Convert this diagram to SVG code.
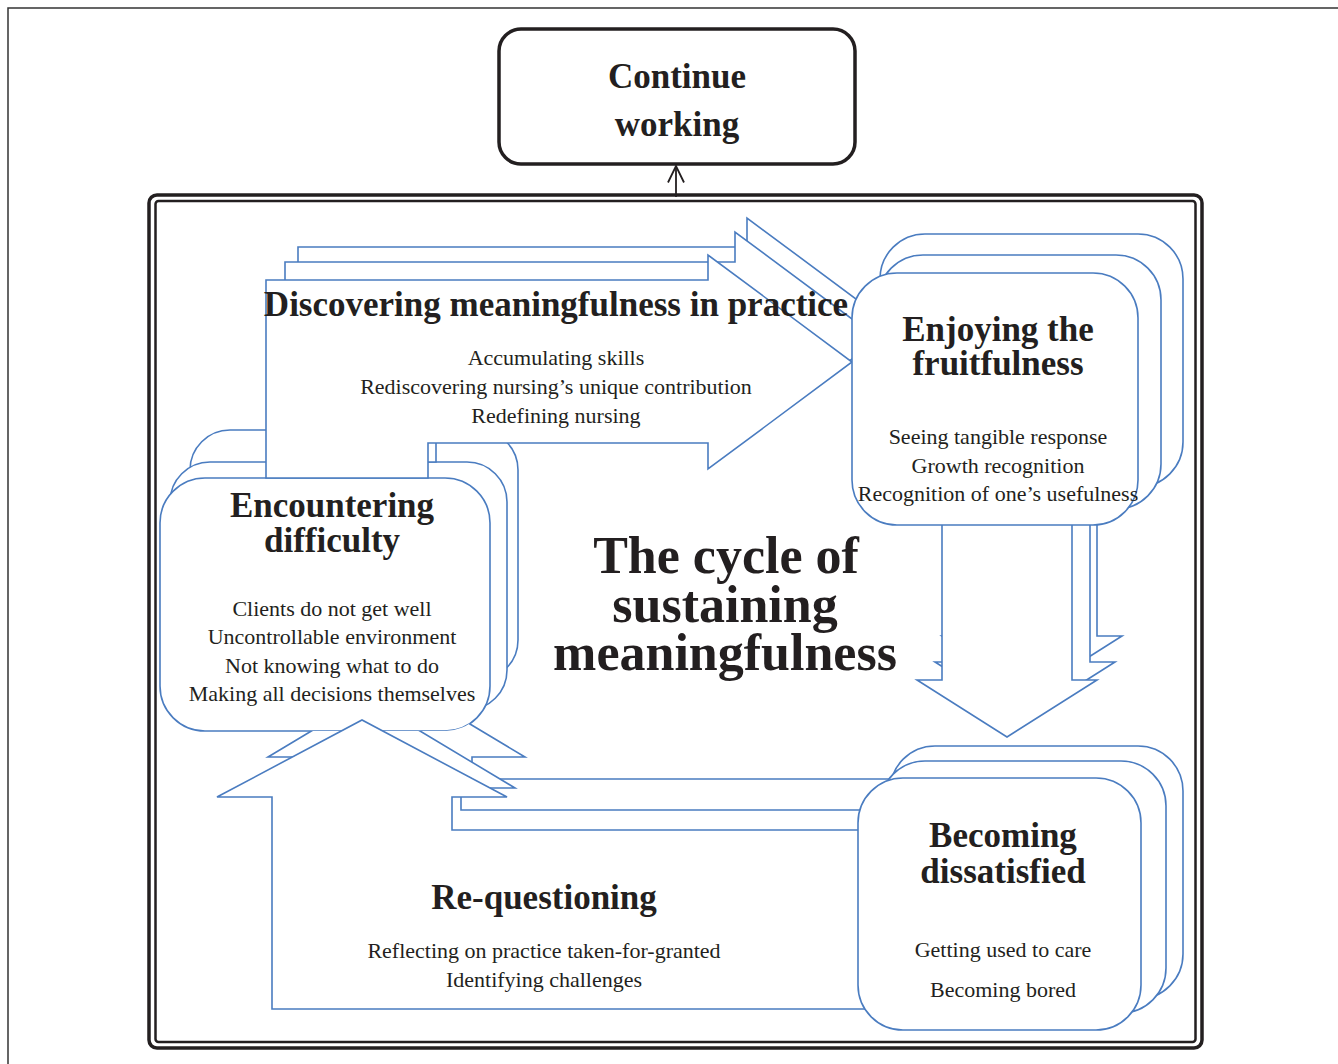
<svg xmlns="http://www.w3.org/2000/svg" width="1338" height="1064" viewBox="0 0 1338 1064">
  <style>
    .blk { fill: #fff; stroke: #4a7cc0; stroke-width: 1.6; stroke-linejoin: miter; }
    .txt { font-family: "Liberation Serif", "Times New Roman", serif; fill: #231f20; text-anchor: middle; }
    .head { font-weight: bold; font-size: 35px; }
    .sub { font-size: 22px; }
    .big { font-weight: bold; font-size: 52px; }
    .frame { fill: none; stroke: #231f20; }
  </style>
  <defs>
    <marker id="open-arrow" viewBox="0 0 19 18" refX="17.5" refY="9" markerWidth="19" markerHeight="18" markerUnits="userSpaceOnUse" orient="auto">
      <path d="M1 1 L17.5 9 L1 17" fill="none" stroke="#231f20" stroke-width="1.8"/>
    </marker>
    <!-- everything except the front "Encountering difficulty" card -->
    <clipPath id="outside-encountering" clipPathUnits="userSpaceOnUse">
      <path clip-rule="evenodd" d="M0 0 H1338 V1064 H0 Z M205 478 H445 A45 45 0 0 1 490 523 V686 A45 45 0 0 1 445 731 H205 A45 45 0 0 1 160 686 V523 A45 45 0 0 1 205 478 Z"/>
    </clipPath>
  </defs>

  <rect x="0" y="0" width="1338" height="1064" fill="#fff"/>

  <!-- page border -->
  <path d="M8 1064 V8 H1338" fill="none" stroke="#333" stroke-width="1.5"/>

  <!-- double frame around the cycle -->
  <g id="cycle-frame">
    <rect class="frame" x="149" y="195" width="1053" height="853" rx="8" stroke-width="3.5"/>
    <rect class="frame" x="155.5" y="201" width="1040" height="841" rx="3" stroke-width="2.5"/>
  </g>

  <!-- connectors: downward block arrow and the exit arrow -->
  <g id="connectors">
    <polygon class="blk" points="967,456 1097,456 1097,636 1122,636 1032,693 942,636 967,636"/>
    <polygon class="blk" points="960,482 1090,482 1090,662 1115,662 1025,719 935,662 960,662"/>
    <polygon class="blk" points="942,500 1072,500 1072,680 1097,680 1007,737 917,680 942,680"/>
    <line x1="676" y1="197" x2="676" y2="166" stroke="#231f20" stroke-width="1.8" marker-end="url(#open-arrow)"/>
  </g>

  <g id="node-encountering">
    <rect class="blk" x="190" y="430" width="328" height="250" rx="40"/>
    <rect class="blk" x="170" y="462" width="337" height="248" rx="40"/>
    <rect class="blk" x="160" y="478" width="330" height="253" rx="45"/>
    <text class="txt head" x="332" y="517">Encountering</text>
    <text class="txt head" x="332" y="552">difficulty</text>
    <text class="txt sub" x="332" y="616">Clients do not get well</text>
    <text class="txt sub" x="332" y="644">Uncontrollable environment</text>
    <text class="txt sub" x="332" y="673">Not knowing what to do</text>
    <text class="txt sub" x="332" y="701">Making all decisions themselves</text>
  </g>

  <g id="node-discovering">
    <polygon class="blk" points="298,247 747,247 747,218 891,325 747,432 747,410 298,410"/>
    <polygon class="blk" points="285,262 735,262 735,232 879,339 735,446 735,425 436,425 436,462 285,462"/>
    <polygon class="blk" points="266,280 708,280 708,255 852,362 708,469 708,443 428,443 428,478 266,478"/>
    <text class="txt head" x="556" y="316">Discovering meaningfulness in practice</text>
    <text class="txt sub" x="556" y="365">Accumulating skills</text>
    <text class="txt sub" x="556" y="394">Rediscovering nursing’s unique contribution</text>
    <text class="txt sub" x="556" y="423">Redefining nursing</text>
  </g>

  <g id="node-enjoying">
    <rect class="blk" x="880" y="234" width="303" height="253" rx="45"/>
    <rect class="blk" x="878" y="255" width="283" height="254" rx="45"/>
    <rect class="blk" x="852" y="273" width="286" height="252" rx="45"/>
    <text class="txt head" x="998" y="341">Enjoying the</text>
    <text class="txt head" x="998" y="375">fruitfulness</text>
    <text class="txt sub" x="998" y="444">Seeing tangible response</text>
    <text class="txt sub" x="998" y="473">Growth recognition</text>
    <text class="txt sub" x="998" y="501">Recognition of one’s usefulness</text>
  </g>

  <g id="node-requestioning">
    <g clip-path="url(#outside-encountering)">
      <polygon class="blk" points="295,960 295,757 268,757 396.5,680 525,757 472,757 472,779 900,779 900,960"/>
      <polygon class="blk" points="281,990 281,788 255,788 385,710 515,788 461,788 461,810 900,810 900,990"/>
    </g>
    <polygon class="blk" points="272,1009 272,797 217,797 362,720 507,797 452,797 452,830 900,830 900,1009"/>
    <text class="txt head" x="544" y="909">Re-questioning</text>
    <text class="txt sub" x="544" y="958">Reflecting on practice taken-for-granted</text>
    <text class="txt sub" x="544" y="987">Identifying challenges</text>
  </g>

  <g id="node-becoming">
    <rect class="blk" x="890" y="746" width="293" height="253" rx="45"/>
    <rect class="blk" x="880" y="761" width="286" height="252" rx="45"/>
    <rect class="blk" x="858" y="778" width="283" height="252" rx="45"/>
    <text class="txt head" x="1003" y="847">Becoming</text>
    <text class="txt head" x="1003" y="883">dissatisfied</text>
    <text class="txt sub" x="1003" y="957">Getting used to care</text>
    <text class="txt sub" x="1003" y="997">Becoming bored</text>
  </g>

  <g id="node-continue">
    <rect x="499" y="29" width="356" height="135" rx="22" fill="#fff" stroke="#231f20" stroke-width="3.5"/>
    <text class="txt head" x="677" y="88">Continue</text>
    <text class="txt head" x="677" y="136">working</text>
  </g>

  <g id="cycle-title">
    <text class="txt big" x="726" y="573">The cycle of</text>
    <text class="txt big" x="725" y="622">sustaining</text>
    <text class="txt big" x="725" y="670">meaningfulness</text>
  </g>
</svg>
